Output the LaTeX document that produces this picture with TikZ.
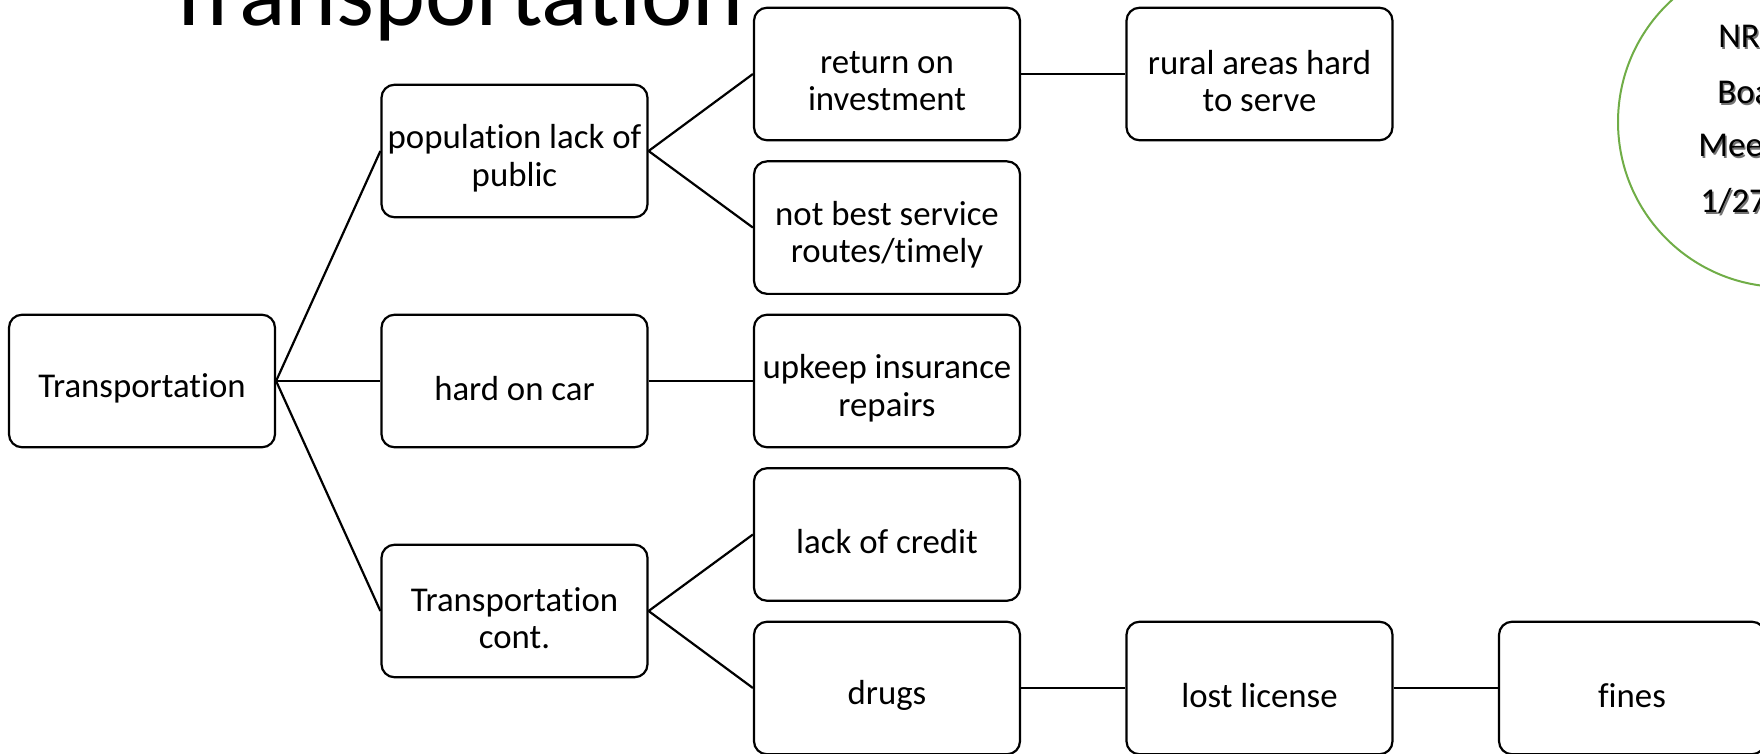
\documentclass[tikz,border=0pt]{standalone}
\usepackage{fontspec}
\setmainfont{Carlito}[Ligatures=CommonOff]
\definecolor{officegreen}{RGB}{112,173,71}
\begin{document}
\begin{tikzpicture}[x=0.5pt,y=-0.5pt,
  boxtext/.style={inner sep=0pt, align=center, yshift=-3.6pt,
    font=\fontsize{17.4}{18.6}\selectfont},
  box/.style={draw, line width=1.1pt, rounded corners=6.5pt, minimum width=133pt,
    minimum height=66.25pt, inner sep=0pt,
    label={[boxtext]center:#1}},
  link/.style={line width=1.1pt},
  circtext/.style={anchor=base west, inner sep=0pt, font=\fontsize{17.4}{18}\selectfont},
  shadowtext/.style={circtext, text=black!55}]
\useasboundingbox (0,0) rectangle (1760,754);

% title
\node[anchor=base, inner sep=0pt, font=\fontsize{48.5}{50}\selectfont] (title) at (455,26) {Transportation};

% green ellipse
\draw[officegreen, line width=1pt] (1783,122) ellipse [x radius=165, y radius=165];
\foreach \t/\xx/\yy [count=\i] in {NR/1718/48, Boa/1717/104, Mee/1698/157, 1\slash 27/1700/213}{
  \node[shadowtext] at (\xx+1.5,\yy+1.5) {\t};
  \node[circtext] (c\i) at (\xx,\yy) {\t};
}

% boxes
\node[box={Transportation}] (root) at (142,381) {};
\node[box={population lack of\\public}] (pop)  at (514.5,151) {};
\node[box={hard on car}] (car)  at (514.5,381) {};
\node[box={Transportation\\cont.}] (cont) at (514.5,611) {};
\node[box={return on\\investment}] (roi)  at (887,74) {};
\node[box={not best service\\routes/timely}] (nbs)  at (887,227.6) {};
\node[box={upkeep insurance\\repairs}] (upk)  at (887,381) {};
\node[box={lack of credit}] (cred) at (887,534.5) {};
\node[box={drugs}] (drug) at (887,688) {};
\node[box={rural areas hard\\to serve}] (rur)  at (1259.5,74) {};
\node[box={lost license}] (lic)  at (1259.5,688) {};
\node[box={fines}] (fine) at (1632,688) {};

% connectors
\draw[link] (root.east) -- (pop.west);
\draw[link] (root.east) -- (car.west);
\draw[link] (root.east) -- (cont.west);
\draw[link] (pop.east) -- (roi.west);
\draw[link] (pop.east) -- (nbs.west);
\draw[link] (car.east) -- (upk.west);
\draw[link] (cont.east) -- (cred.west);
\draw[link] (cont.east) -- (drug.west);
\draw[link] (roi.east) -- (rur.west);
\draw[link] (drug.east) -- (lic.west);
\draw[link] (lic.east) -- (fine.west);
\end{tikzpicture}
\end{document}
